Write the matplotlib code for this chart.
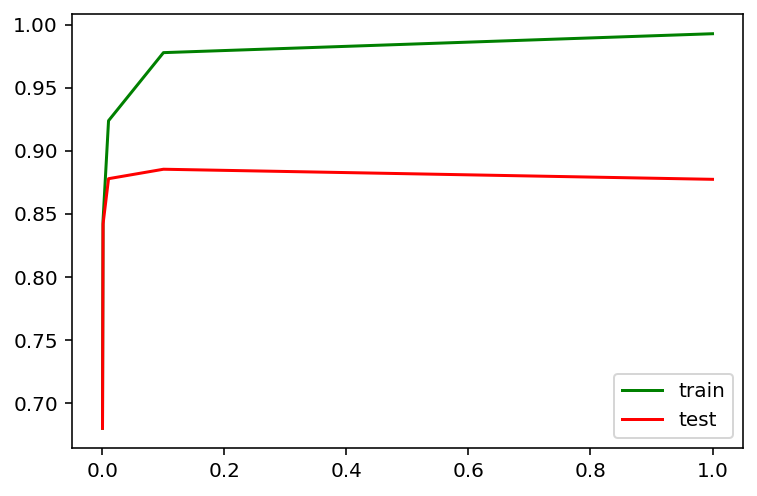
import matplotlib
matplotlib.use("Agg")
import matplotlib.pyplot as plt

# regularization values and accuracy
C_vals = [0.0001, 0.001, 0.01, 0.1, 1.0]
train_acc = [0.68, 0.845, 0.924, 0.978, 0.993]
test_acc = [0.68, 0.842, 0.878, 0.8855, 0.8775]

fig = plt.figure(figsize=(757 / 144, 496 / 144), dpi=144)
ax = fig.add_axes([72 / 757, 1 - 448 / 496, (743 - 72) / 757, (448 - 14) / 496])
ax.plot(C_vals, train_acc, color="green", label="train")
ax.plot(C_vals, test_acc, color="red", label="test")
ax.legend(loc="lower right")
fig.savefig("out.png", dpi=144)
